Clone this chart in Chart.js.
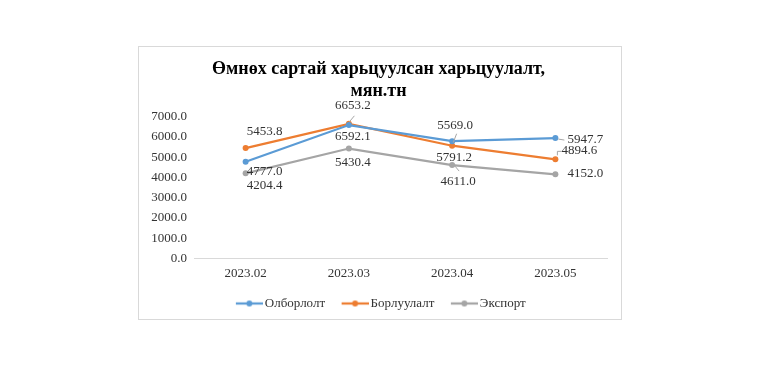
<!DOCTYPE html>
<html><head><meta charset="utf-8">
<script src="https://cdn.jsdelivr.net/npm/chart.js@4.4.1/dist/chart.umd.min.js"></script>
<style>
html,body{margin:0;padding:0;background:#fff;}
#frame{position:absolute;left:138px;top:46px;width:484px;height:274px;box-sizing:border-box;border:1px solid #d9d9d9;}
#wrap{position:absolute;left:0;top:0;width:767px;height:371px;}
</style></head><body>
<div id="frame"></div>
<div id="wrap"><canvas id="c" width="767" height="371"></canvas></div>
<script>
// ---- data ----
const categories = ['2023.02', '2023.03', '2023.04', '2023.05'];
const seriesNames = ['Олборлолт', 'Борлуулалт', 'Экспорт'];
const olborlolt = [4777.0, 6592.1, 5791.2, 5947.7];
const borluulalt = [5453.8, 6653.2, 5569.0, 4894.6];
const eksport = [4204.4, 5430.4, 4611.0, 4152.0];
const yMin = 0, yMax = 7000, yStep = 1000;
const titleLines = ['Өмнөх сартай харьцуулсан харьцуулалт,', 'мян.тн'];

// ---- style ----
const colors = ['#5B9BD5', '#ED7D31', '#A5A5A5'];
const FONT = "'Liberation Serif', 'Times New Roman', serif";
const textColor = '#333333';
// label offsets (px) relative to each point
const labelOffsets = [
  [[19, 10], [4, 12], [2, 16], [30, 2]],
  [[19, -16], [4, -18], [3, -20], [24, -9]],
  [[19, 12], [4, 14], [6, 16], [30, -1]]
];
const leaders = {
  '0-3': [[3, 1], [9, 2]],
  '1-1': [[0.5, -2], [5.5, -8]],
  '1-2': [[1, -3], [4.5, -12]],
  '1-3': [[2, -4], [2, -8], [6, -8]],
  '2-2': [[2, 0], [7, 6]]
};

function legendImg(color) {
  const c = document.createElement('canvas');
  c.width = 36; c.height = 10;
  const g = c.getContext('2d');
  g.strokeStyle = color; g.lineWidth = 2.25;
  g.beginPath(); g.moveTo(9, 5); g.lineTo(36, 5); g.stroke();
  g.fillStyle = color;
  g.beginPath(); g.arc(22.5, 5, 3, 0, Math.PI * 2); g.fill();
  return c;
}
const legendImgs = colors.map(legendImg);

const labelPlugin = {
  id: 'dlabels',
  afterDatasetsDraw(chart) {
    const ctx = chart.ctx;
    ctx.save();
    ctx.strokeStyle = '#a6a6a6';
    ctx.lineWidth = 1;
    chart.data.datasets.forEach((ds, di) => {
      const meta = chart.getDatasetMeta(di);
      meta.data.forEach((pt, i) => {
        const ld = leaders[di + '-' + i];
        if (ld) {
          ctx.beginPath();
          ld.forEach((p, k) => {
            const x = pt.x + p[0], y = pt.y + p[1];
            if (k === 0) ctx.moveTo(x, y); else ctx.lineTo(x, y);
          });
          ctx.stroke();
        }
      });
    });
    ctx.font = '13px ' + FONT;
    ctx.fillStyle = textColor;
    ctx.textAlign = 'center';
    ctx.textBaseline = 'middle';
    chart.data.datasets.forEach((ds, di) => {
      const meta = chart.getDatasetMeta(di);
      meta.data.forEach((pt, i) => {
        const o = labelOffsets[di][i];
        ctx.fillText(ds.data[i].toFixed(1), pt.x + o[0], pt.y + o[1]);
      });
    });
    ctx.restore();
  }
};

const seriesData = [olborlolt, borluulalt, eksport];
new Chart(document.getElementById('c'), {
  type: 'line',
  data: {
    labels: categories,
    datasets: seriesData.map((d, i) => ({
      label: seriesNames[i],
      data: d,
      borderColor: colors[i],
      backgroundColor: colors[i],
      borderWidth: 2.25,
      pointRadius: 3,
      pointBorderWidth: 0,
      pointBackgroundColor: colors[i],
      tension: 0,
      fill: false
    }))
  },
  options: {
    responsive: false,
    animation: false,
    devicePixelRatio: 1,
    layout: { padding: { left: 150, right: 160, top: 59, bottom: 51 } },
    plugins: {
      title: {
        display: true,
        text: titleLines,
        color: '#000',
        font: { family: FONT, size: 18, weight: 'bold', lineHeight: 1.2 },
        padding: { top: 0, bottom: 14.6 }
      },
      legend: {
        position: 'bottom',
        labels: {
          usePointStyle: true,
          pointStyleWidth: 27,
          padding: 12,
          color: textColor,
          font: { family: FONT, size: 13 },
          generateLabels(chart) {
            const items = Chart.defaults.plugins.legend.labels.generateLabels(chart);
            items.forEach((it, i) => { it.pointStyle = legendImgs[i]; });
            return items;
          }
        }
      },
      tooltip: { enabled: false }
    },
    scales: {
      x: {
        offset: true,
        grid: { display: false, drawTicks: false },
        border: { display: true, color: '#d9d9d9', width: 1 },
        ticks: { color: textColor, font: { family: FONT, size: 13 }, padding: 7, maxRotation: 0 },
        afterFit(s) { s.height = 26.7; }
      },
      y: {
        min: yMin, max: yMax,
        grid: { display: false, drawTicks: false },
        border: { display: false },
        ticks: {
          stepSize: yStep,
          color: textColor,
          font: { family: FONT, size: 13 },
          padding: 7,
          callback: v => Number(v).toFixed(1)
        },
        afterFit(s) { s.width = 44; }
      }
    }
  },
  plugins: [labelPlugin]
});
</script>
</body></html>
